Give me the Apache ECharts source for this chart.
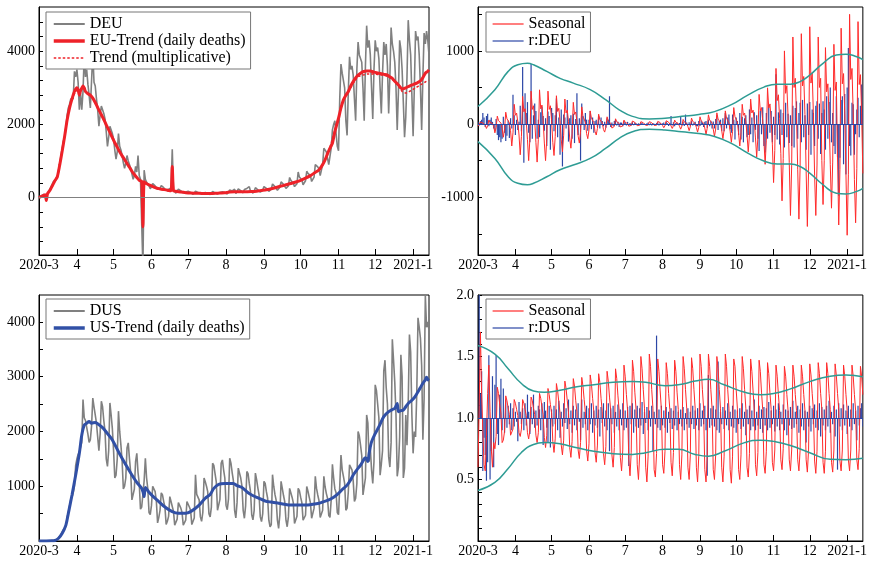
<!DOCTYPE html>
<html>
<head>
<meta charset="utf-8">
<script src="https://cdn.jsdelivr.net/npm/echarts@6.0.0/dist/echarts.min.js"></script>
<style>
  html, body { margin: 0; padding: 0; background: #fff; }
  #chart { width: 870px; height: 562px; }
</style>
</head>
<body>
<div id="chart"></div>
<script>
// Day index 0 = 2020-03-01, last index 319 = 2021-01-14
const monthStarts = [0, 31, 61, 92, 122, 153, 184, 214, 245, 275, 306];
const monthLabels = ['2020-3', '4', '5', '6', '7', '8', '9', '10', '11', '12', '2021-1'];

// ---- Europe: daily deaths (DEU) ----
const deu = [
  20, 30, 50, 60, 90, 110, 40,
  100, 170, 220, 310, 360, 450, 500,
  480, 560, 750, 950, 1150, 1350, 1550,
  1650, 1900, 2250, 2450, 2550, 2700, 2750,
  2700, 3450, 3300, 3500, 3150, 2400, 2850,
  2400, 2900, 3900, 3300, 3500, 3100, 2800,
  2450, 2400, 3950, 3150, 3050, 2700, 2400,
  1950, 2250, 2500, 2400, 2300, 2150, 1800,
  1400, 1650, 1950, 1900, 1750, 1600, 1300,
  1050, 1250, 1750, 1400, 1300, 1150, 950,
  800, 950, 1150, 1000, 950, 800, 650,
  500, 600, 850, 700, 1150, 600, 500,
  450, -1900, 750, 500, 420, 380, 320,
  240, 300, 380, 350, 320, 290, 230,
  190, 250, 330, 290, 270, 240, 200,
  170, 230, 280, 260, 1320, 210, 160,
  120, 170, 230, 200, 180, 160, 130,
  100, 150, 190, 170, 150, 140, 110,
  90, 130, 170, 150, 140, 120, 100,
  80, 120, 160, 140, 130, 115, 95,
  85, 125, 165, 150, 130, 120, 100,
  90, 140, 180, 160, 150, 130, 105,
  100, 150, 210, 190, 180, 160, 230,
  110, 160, 240, 200, 190, 170, 130,
  220, 170, 250, 210, 300, 175, 140,
  120, 180, 270, 230, 210, 190, 150,
  130, 200, 300, 260, 250, 220, 170,
  160, 230, 370, 330, 300, 270, 200,
  200, 280, 430, 380, 360, 320, 250,
  240, 320, 550, 470, 430, 390, 300,
  280, 380, 700, 560, 520, 480, 350,
  330, 460, 720, 660, 650, 600, 440,
  420, 560, 900, 850, 840, 780, 600,
  650, 900, 1350, 1300, 1250, 1200, 900,
  950, 1350, 1850, 2000, 2100, 1750, 1400,
  1280, 2700, 3650, 3400, 3350, 3000, 2100,
  1700, 2900, 3850, 3500, 3600, 3350, 2700,
  2100, 3500, 4250, 3900, 3950, 3700, 3000,
  2100, 3600, 4700, 4100, 4300, 3900, 3000,
  2150, 3500, 4300, 4000, 4100, 3800, 3000,
  2300, 3400, 4250, 3900, 4200, 3600,
  2300, 3300, 4650, 4200, 4000, 3700, 3000,
  1850, 2900, 4300, 4050, 3500, 2600,
  1650, 2200, 3300, 4850, 4300, 3900, 2800,
  1680, 3000, 4550, 4300, 4400, 3900, 3000,
  1850, 3300, 4500, 4200, 4550, 4300, 3900
];

// EU trend (additive decomposition) as [day, value]
const euTrend = [
  [0,0],[2,30],[4,60],[5,80],[6,-80],[7,110],[9,200],[11,330],[13,460],[15,570],[17,900],
  [19,1280],[21,1680],[23,2120],[25,2450],[27,2700],[29,2900],[31,3000],[32,2950],[33,2800],
  [34,2920],[36,3050],[37,3000],[38,2900],[40,2840],[42,2800],[44,2720],[46,2600],[48,2460],
  [50,2330],[52,2200],[54,2060],[56,1920],[58,1780],[60,1640],[62,1500],[64,1380],[66,1250],
  [68,1140],[70,1040],[72,930],[74,830],[76,720],[78,630],[80,550],[82,470],[84,440],[85,-800],
  [86,430],[88,380],[90,350],[92,320],[94,285],[96,260],[98,245],[100,230],[102,220],[104,210],
  [106,195],[108,185],[109,850],[110,180],[112,170],[114,160],[116,150],[120,135],[124,125],
  [128,120],[132,115],[136,110],[140,112],[144,115],[148,122],[152,135],[156,150],[160,160],
  [166,160],[170,162],[174,165],[178,175],[182,195],[186,215],[190,240],[194,275],[198,315],
  [202,350],[206,385],[210,425],[214,470],[218,530],[222,600],[226,690],[229,755],[232,900],
  [234,1030],[236,1200],[238,1350],[240,1485],[242,1800],[245,2170],[247,2450],[249,2670],
  [251,2800],[253,2900],[255,3050],[257,3170],[259,3270],[261,3350],[263,3400],[265,3440],
  [268,3460],[271,3460],[274,3430],[278,3400],[282,3370],[285,3350],[287,3300],[289,3260],
  [291,3180],[294,3080],[297,2970],[300,3000],[303,3050],[306,3090],[309,3130],[312,3190],
  [314,3280],[316,3400],[318,3450],[319,3490]
];

// Trend from the multiplicative decomposition
const multTrend = [
  [0,0],[3,40],[6,70],[8,130],[10,260],[12,400],[14,520],[16,700],[18,1100],[20,1500],
  [22,1920],[24,2300],[26,2600],[28,2760],[30,2900],[32,2950],[34,2960],[36,3000],[38,2920],
  [40,2850],[44,2720],[48,2460],[52,2200],[56,1920],[60,1640],[64,1380],[68,1140],[72,930],
  [76,720],[80,550],[84,430],[88,380],[92,320],[96,260],[100,230],[104,210],[108,185],
  [112,170],[116,150],[124,125],[132,115],[140,112],[148,122],[156,150],[166,158],[174,165],
  [182,195],[190,240],[198,315],[206,385],[214,470],[222,600],[229,760],[234,1040],[238,1380],
  [242,1850],[245,2200],[249,2650],[253,2880],[257,3120],[261,3300],[265,3350],[269,3380],
  [274,3380],[278,3360],[282,3340],[286,3300],[290,3200],[294,3050],[297,2900],[300,2860],
  [304,2920],[308,3000],[312,3080],[316,3160],[319,3210]
];

// Seasonal component of DEU (additive)
const seasonalDEU = [
  -30, -12, 27, 12, 15, 3, -15,
  -60, -24, 54, 24, 30, 6, -30,
  -120, -48, 108, 48, 60, 12, -60,
  -180, -72, 162, 72, 90, 18, -90,
  -300, -120, 270, 120, 150, 30, -150,
  -420, -168, 378, 168, 210, 42, -210,
  -500, -200, 450, 200, 250, 50, -250,
  -520, -208, 468, 208, 260, 52, -260,
  -500, -200, 450, 200, 250, 50, -250,
  -430, -172, 387, 172, 215, 43, -215,
  -380, -152, 342, 152, 190, 38, -190,
  -330, -132, 297, 132, 165, 33, -165,
  -260, -104, 234, 104, 130, 26, -130,
  -200, -80, 180, 80, 100, 20, -100,
  -150, -60, 135, 60, 75, 15, -75,
  -110, -44, 99, 44, 55, 11, -55,
  -80, -32, 72, 32, 40, 8, -40,
  -60, -24, 54, 24, 30, 6, -30,
  -45, -18, 41, 18, 23, 5, -23,
  -35, -14, 32, 14, 18, 4, -18,
  -35, -14, 32, 14, 18, 4, -18,
  -40, -16, 36, 16, 20, 4, -20,
  -50, -20, 45, 20, 25, 5, -25,
  -60, -24, 54, 24, 30, 6, -30,
  -70, -28, 63, 28, 35, 7, -35,
  -90, -36, 81, 36, 45, 9, -45,
  -110, -44, 99, 44, 55, 11, -55,
  -140, -56, 126, 56, 70, 14, -70,
  -170, -68, 153, 68, 85, 17, -85,
  -200, -80, 180, 80, 100, 20, -100,
  -250, -100, 225, 100, 125, 25, -125,
  -300, -120, 270, 120, 150, 30, -150,
  -380, -152, 342, 152, 190, 38, -190,
  -450, -180, 405, 180, 225, 45, -225,
  -550, -220, 495, 220, 275, 55, -275,
  -800, -360, 760, 320, 400, 80, -400,
  -1050, -470, 1000, 420, 525, 105, -525,
  -1250, -560, 1190, 500, 625, 125, -625,
  -1300, -585, 1235, 520, 650, 130, -650,
  -1400, -630, 1330, 560, 700, 140, -700,
  -1250, -560, 1190, 500, 625, -500,
  -1100, -495, 1045, 440, 550, 110, -550,
  -1150, -520, 1090, 460, 575, -450,
  -1380, -620, 1310, 550, 690, 140, -690,
  -1520, -685, 1500, 610, 760, 150, -760,
  -1350, -610, 1400, 540, 675, 135, -675
];

// Residual of DEU
const residDEU = [
  30, -20, 40, 60, 150, 90, -40,
  110, 140, -30, 60, 90, 30, -60,
  -80, 70, -150, -220, -180, -250, -200,
  100, -120, -230, -160, 50, -190, 80,
  -60, 400, 120, -150, 60, -80, 30,
  250, -100, 780, -530, 420, 150, 300,
  -120, -250, 820, -200, 120, 280, 180,
  -200, 60, -180, 160, 240, 110, -90,
  80, -300, 170, 110, -350, 220, 150,
  -100, 120, 350, -180, 90, -420, 200,
  -580, 130, 90, -60, 330, -240, 80,
  120, -200, 140, -260, 70, 420, -150,
  80, -500, 280, 110, -80, 150, 60,
  -90, 60, 180, -70, 90, -120, 40,
  60, -40, 110, -60, 90, 40, -30,
  30, -50, 80, 60, 380, -40, 20,
  -30, 40, 60, -20, 30, -40, 20,
  20, -30, 40, 20, -20, 30, -10,
  15, -20, 25, -15, 20, 10, -10,
  10, -15, 20, 15, -10, 5, -5,
  10, 20, -15, 10, -20, 15, 5,
  -10, 15, 25, -20, 15, -10, 10,
  20, -15, 30, 10, -25, 15, 110,
  -20, 25, -30, 15, 20, -10, 15,
  105, -20, 30, -25, 130, 20, -15,
  25, -30, 40, -20, 15, 30, -25,
  -30, 40, -25, 50, 20, -40, 30,
  40, -50, 60, -30, 45, -60, 35,
  -60, 70, 120, -80, 40, 60, -90,
  80, -100, 150, -60, 90, 130, -70,
  -120, 130, 60, -210, 90, 40, -150,
  150, -210, 100, -250, 80, 120, -180,
  -150, 200, -140, 90, -250, 160, -80,
  120, -200, -370, 180, -140, 230, -300,
  -390, 150, -200, 260, -120, 180, -250,
  100, -150, 680, -210, 160, -280, 200,
  -150, 150, -320, 290, -180, 140, -260,
  120, -300, 250, -320, 220, 310, -200,
  150, 290, -250, 330, -180, 120, -350,
  280, -150, 300, -420, 200, 150, -300,
  250, 310, -200, 280, -410, 150,
  310, 200, -350, 380, -200, 300, 500,
  -250, 150, -300, -410, 380, -450,
  -980, -460, 330, 380, -550, 410, -690,
  500, 1040, -300, -430, 290, 270, -420,
  -140, 200, 360, -180, 250, 540, 200
];

// Envelope of the DEU seasonal component, as [day, value]
const bandDEUUpper = [
  [0,240],[14,470],[25,720],[33,810],[41,830],[46,810],[57,720],[68,625],[79,560],[93,470],
  [106,330],[117,195],[128,105],[142,70],[155,80],[169,105],[183,130],[196,170],[210,265],
  [224,400],[237,505],[248,545],[259,545],[267,580],[275,670],[286,830],[297,945],[305,955],
  [314,920],[319,880]
];
const bandDEULower = [
  [0,-240],[14,-470],[25,-720],[33,-810],[41,-830],[46,-810],[57,-720],[68,-625],[79,-560],[93,-470],
  [106,-330],[117,-195],[128,-105],[142,-70],[155,-80],[169,-105],[183,-130],[196,-170],[210,-265],
  [224,-400],[237,-505],[248,-545],[259,-545],[267,-580],[275,-670],[286,-830],[297,-945],[305,-955],
  [314,-920],[319,-880]
];

// ---- United States: daily deaths (DUS) ----
const dus = [
  0, 1, 1, 2, 2, 3, 2,
  3, 4, 7, 6, 9, 10, 13,
  18, 33, 55, 85, 120, 165, 210,
  210, 270, 430, 520, 640, 760, 800,
  880, 1000, 1380, 1500, 1580, 1620, 1600,
  1800, 2580, 2250, 2200, 2230, 1950, 1800,
  1850, 2100, 2610, 2450, 2300, 2150, 1900,
  1650, 1950, 2550, 2450, 2200, 2000, 1500,
  1360, 1650, 2520, 2300, 2050, 1650, 1150,
  1200, 1500, 2370, 2000, 1750, 1450, 950,
  1000, 1150, 1700, 1790, 1500, 1250, 750,
  780, 950, 1450, 1600, 1250, 1050, 580,
  620, 600, 1100, 1510, 1150, 950, 520,
  480, 650, 1000, 1025, 900, 720, 330,
  430, 560, 880, 840, 720, 620, 300,
  360, 450, 810, 720, 630, 540, 290,
  300, 400, 700, 680, 600, 520, 290,
  290, 380, 720, 700, 620, 560, 300,
  300, 420, 1210, 850, 800, 750, 440,
  360, 520, 1150, 1080, 1000, 900, 500,
  440, 620, 1420, 1380, 1230, 1080, 560,
  540, 760, 1420, 1480, 1300, 1150, 650,
  570, 770, 1510, 1420, 1250, 1100, 560,
  420, 700, 1330, 1300, 1150, 1000, 560,
  415, 640, 1270, 1230, 1050, 900, 480,
  385, 560, 1240, 1120, 970, 840, 440,
  355, 500, 1090, 1050, 900, 780, 380,
  260, 300, 1210, 1000, 850, 740, 380,
  230, 480, 1090, 960, 830, 720, 380,
  260, 440, 960, 930, 800, 700, 320,
  320, 450, 960, 920, 800, 700, 380,
  415, 470, 995, 910, 800, 700, 415,
  415, 600, 1180, 960, 840, 740, 430,
  420, 560, 1180, 990, 870, 780, 470,
  430, 750, 1400, 1150, 950, 880, 520,
  480, 1000, 1570, 1300, 1180, 1050, 560,
  600, 900, 1390, 1380, 1300, 1100, 720,
  780, 1050, 2000, 1920, 1750, 1560, 840,
  850, 1150, 2300, 2150, 1450, 1700, 1300,
  1050, 1450, 2850, 2750, 2500, 2250, 1200,
  1400, 1650, 3100, 3300, 2800, 2500, 1540,
  1350, 1800, 3680, 3300, 2900, 2300, 1180,
  1350, 1900, 3400, 3000, 1150, 1330, 2300,
  1750, 2500, 3770, 3450, 2300, 1600, 2000,
  1900, 2700, 4075, 3900, 3700, 3200, 1850,
  2600, 4480, 3900, 4000, 3850
];

// US trend as [day, value]
const usTrend = [
  [0,0],[10,5],[13,10],[16,50],[19,140],[22,290],[24,505],[27,840],[30,1205],[33,1600],
  [35,1935],[37,2115],[39,2150],[41,2180],[43,2150],[46,2165],[48,2140],[52,2070],[56,1960],
  [60,1845],[65,1630],[71,1390],[76,1205],[80,1070],[84,960],[85,900],[86,810],[87,975],
  [90,890],[93,820],[98,720],[103,620],[109,535],[114,505],[120,505],[125,550],[131,655],
  [136,780],[140,850],[143,960],[147,1035],[152,1050],[159,1050],[162,1010],[166,975],
  [170,900],[174,840],[180,780],[185,730],[190,710],[196,690],[207,655],[218,655],[224,670],
  [229,690],[233,720],[237,750],[241,800],[245,870],[248,940],[252,1020],[255,1120],
  [257,1205],[260,1300],[263,1385],[266,1500],[267,1520],[269,1450],[270,1600],[272,1810],
  [275,1960],[278,2085],[282,2270],[286,2360],[289,2400],[291,2420],[293,2510],[294,2360],
  [296,2380],[298,2390],[300,2450],[302,2510],[304,2550],[306,2590],[308,2650],[310,2725],
  [312,2800],[314,2880],[316,2940],[317,2990],[318,2950],[319,2930]
];

// Seasonal component of DUS (multiplicative)
const seasonalDUS = [
  0.6, 1.1, 1.7, 1.2, 0.9, 0.62, 0.57,
  0.85, 1.2, 1.43, 1.05, 0.75, 0.6, 0.8,
  0.75, 0.85, 1.25, 1.2, 1.11, 1.04, 0.8,
  0.82, 0.89, 1.18, 1.14, 1.08, 1.03, 0.86,
  0.85, 0.91, 1.15, 1.12, 1.07, 1.02, 0.88,
  0.85, 0.91, 1.15, 1.12, 1.07, 1.02, 0.88,
  0.83, 0.9, 1.17, 1.14, 1.08, 1.03, 0.86,
  0.8, 0.88, 1.2, 1.16, 1.09, 1.03, 0.84,
  0.76, 0.86, 1.24, 1.19, 1.11, 1.04, 0.81,
  0.72, 0.83, 1.28, 1.22, 1.13, 1.04, 0.78,
  0.7, 0.82, 1.3, 1.24, 1.14, 1.05, 0.76,
  0.68, 0.81, 1.32, 1.26, 1.14, 1.05, 0.74,
  0.67, 0.8, 1.33, 1.26, 1.15, 1.05, 0.74,
  0.65, 0.79, 1.35, 1.28, 1.16, 1.05, 0.72,
  0.64, 0.78, 1.36, 1.29, 1.16, 1.05, 0.71,
  0.62, 0.77, 1.38, 1.3, 1.17, 1.06, 0.7,
  0.6, 0.76, 1.4, 1.32, 1.18, 1.06, 0.68,
  0.57, 0.74, 1.43, 1.34, 1.19, 1.06, 0.66,
  0.53, 0.72, 1.47, 1.38, 1.21, 1.07, 0.62,
  0.5, 0.7, 1.5, 1.4, 1.23, 1.08, 0.6,
  0.48, 0.69, 1.52, 1.42, 1.23, 1.08, 0.58,
  0.52, 0.71, 1.48, 1.38, 1.22, 1.07, 0.62,
  0.55, 0.73, 1.45, 1.36, 1.2, 1.07, 0.64,
  0.53, 0.72, 1.47, 1.38, 1.21, 1.07, 0.62,
  0.5, 0.7, 1.5, 1.4, 1.23, 1.08, 0.6,
  0.5, 0.7, 1.49, 1.4, 1.23, 1.08, 0.6,
  0.48, 0.69, 1.52, 1.42, 1.23, 1.08, 0.58,
  0.48, 0.69, 1.52, 1.42, 1.23, 1.08, 0.58,
  0.5, 0.7, 1.5, 1.4, 1.23, 1.08, 0.6,
  0.48, 0.69, 1.52, 1.42, 1.23, 1.08, 0.58,
  0.47, 0.69, 1.48, 1.42, 1.23, 1.08, 0.58,
  0.5, 0.7, 1.5, 1.4, 1.23, 1.08, 0.6,
  0.52, 0.71, 1.48, 1.38, 1.22, 1.07, 0.62,
  0.53, 0.72, 1.47, 1.38, 1.21, 1.07, 0.62,
  0.55, 0.73, 1.45, 1.36, 1.2, 1.07, 0.64,
  0.57, 0.74, 1.43, 1.34, 1.19, 1.06, 0.66,
  0.58, 0.75, 1.42, 1.34, 1.19, 1.06, 0.66,
  0.57, 0.74, 1.43, 1.34, 1.19, 1.06, 0.66,
  0.57, 0.74, 1.43, 1.34, 1.19, 1.06, 0.66,
  0.56, 0.74, 1.44, 1.35, 1.2, 1.07, 0.65,
  0.55, 0.73, 1.45, 1.36, 1.2, 1.07, 0.64,
  0.55, 0.73, 1.45, 1.36, 1.2, 1.07, 0.64,
  0.56, 0.74, 1.44, 1.35, 1.2, 1.07, 0.65,
  0.57, 0.74, 1.43, 1.34, 1.19, 1.06, 0.66,
  0.57, 0.74, 1.43, 1.34, 1.19, 1.06, 0.66,
  0.58, 0.75, 1.42, 1.34, 1.19
];

// Residual of DUS (multiplicative, around 1)
const residDUS = [
  1.0, 2.1, 1.2, 1.38, 0.57, 0.84, 0.7,
  0.49, 0.64, 1.51, 0.5, 0.73, 1.34, 0.6,
  1.27, 1.51, 0.87, 0.78, 1.19, 1.32, 0.9,
  1.24, 0.88, 1.15, 0.92, 1.1, 0.95, 1.12,
  0.9, 1.08, 0.93, 1.05, 0.97, 0.81, 1.13,
  1.05, 0.95, 1.08, 0.9, 1.12, 0.94, 1.19,
  1.05, 0.87, 1.09, 0.95, 1.19, 0.92, 1.06,
  0.94, 1.1, 1.07, 0.9, 1.12, 0.78, 1.13,
  1.06, 0.92, 0.8, 1.1, 0.76, 1.07, 0.93,
  1.1, 0.95, 1.07, 0.9, 1.14, 0.84, 1.05,
  0.93, 1.12, 0.96, 1.08, 0.91, 1.15, 0.95,
  1.06, 0.88, 1.1, 0.94, 1.07, 0.9, 1.12,
  0.97, 0.82, 1.15, 0.92, 1.05, 0.95, 1.1,
  0.9, 1.08, 0.95, 1.12, 0.88, 1.06, 0.94,
  1.1, 0.92, 1.07, 0.85, 1.09, 0.96, 1.12,
  0.93, 1.06, 0.9, 1.12, 0.73, 1.08, 0.95,
  1.1, 0.88, 1.05, 0.93, 1.11, 0.9, 1.07,
  0.94, 1.12, 0.9, 1.06, 0.92, 1.09, 0.61,
  1.1, 0.95, 1.12, 0.88, 1.07, 0.93, 1.1,
  0.92, 1.08, 0.94, 1.13, 0.87, 1.05, 0.96,
  1.09, 0.9, 1.06, 0.93, 1.1, 0.73, 1.05,
  0.95, 1.67, 0.92, 1.07, 0.9, 1.1, 0.94,
  1.06, 0.92, 1.09, 0.88, 1.05, 0.96, 1.08,
  0.91, 1.06, 0.94, 1.1, 0.9, 1.05, 0.95,
  1.07, 0.93, 1.09, 0.9, 1.04, 0.95, 1.08,
  0.92, 1.05, 0.95, 1.1, 0.91, 1.06, 0.94,
  1.08, 0.9, 1.12, 0.93, 1.06, 0.95, 1.1,
  0.9, 0.53, 1.35, 0.92, 1.08, 0.94, 1.1,
  0.93, 1.07, 0.9, 1.46, 0.88, 1.05, 0.95,
  1.09, 0.91, 1.06, 0.94, 1.12, 0.9, 1.05,
  0.93, 1.1, 0.92, 1.07, 0.88, 1.06, 0.95,
  1.08, 0.91, 1.12, 0.93, 1.05, 0.86, 1.07,
  0.95, 1.1, 0.9, 1.06, 0.93, 1.15, 0.9,
  1.05, 0.94, 1.1, 0.91, 1.07, 0.88, 1.09,
  0.94, 1.08, 0.9, 1.13, 0.92, 1.06, 0.95,
  1.1, 0.89, 1.07, 0.93, 1.12, 0.9, 1.05,
  0.95, 1.11, 0.9, 1.07, 0.86, 1.06, 0.94,
  1.09, 0.91, 1.14, 0.92, 1.05, 0.95, 1.1,
  0.88, 1.07, 0.93, 1.12, 0.9, 1.06, 0.8,
  1.05, 0.93, 1.1, 0.89, 1.08, 0.95, 1.11,
  0.92, 1.06, 0.9, 1.12, 0.85, 1.09, 0.94,
  1.07, 0.9, 1.1, 0.93, 1.14, 0.88, 1.05,
  0.95, 1.1, 0.85, 1.07, 0.58, 1.12, 0.93,
  1.08, 0.9, 1.11, 0.94, 1.06, 0.87, 1.1,
  0.93, 1.07, 0.9, 1.12, 0.95, 1.06, 0.82,
  1.1, 0.94, 1.08, 1.12, 0.93
];

// Envelope of the DUS seasonal component, as [day, value]
const bandDUSUpper = [
  [0,1.59],[14,1.52],[25,1.40],[36,1.28],[46,1.22],[55,1.21],[68,1.226],[82,1.255],[96,1.27],
  [112,1.29],[128,1.296],[139,1.29],[155,1.263],[166,1.27],[180,1.30],[191,1.315],[204,1.27],
  [221,1.21],[234,1.19],[245,1.2],[259,1.237],[275,1.296],[292,1.34],[305,1.35],[319,1.336]
];
const bandDUSLower = [
  [0,0.41],[14,0.476],[25,0.59],[36,0.72],[46,0.785],[55,0.80],[68,0.79],[82,0.758],[96,0.73],
  [112,0.71],[128,0.704],[139,0.718],[155,0.745],[166,0.745],[180,0.704],[191,0.69],[204,0.73],
  [221,0.80],[234,0.82],[245,0.81],[259,0.777],[275,0.718],[292,0.664],[305,0.66],[319,0.672]
];

// Axis tick / label positions
const ticksDEU = [-1200, -800, -400, 0, 400, 800, 1200, 1600, 2000, 2400, 2800, 3200, 3600, 4000, 4400, 4800];
const labelsDEU = [0, 2000, 4000];
const ticksSeasDEU = [-1500, -1000, -500, 0, 500, 1000, 1500];
const labelsSeasDEU = [-1000, 0, 1000];
const ticksDUS = [500, 1000, 1500, 2000, 2500, 3000, 3500, 4000];
const labelsDUS = [1000, 2000, 3000, 4000];
const ticksSeasDUS = [0.1, 0.2, 0.3, 0.4, 0.5, 0.6, 0.7, 0.8, 0.9, 1.0, 1.1, 1.2, 1.3, 1.4, 1.5, 1.6, 1.7, 1.8, 1.9, 2.0];
const labelsSeasDUS = [0.5, 1.0, 1.5, 2.0];

// ---- styling ----
const FONT = 'Liberation Serif';
const GRAY = '#808080';
const RED = '#ee2229';
const SEAS_RED = '#ff2a2a';
const BLUE = '#2c47a6';
const US_BLUE = '#3150a6';
const TEAL = '#2e9c94';

const daily = arr => arr.map((v, i) => [i, v]);

function makeX(gi) {
  return {
    type: 'value', gridIndex: gi, min: 0, max: 319,
    axisLine: { show: true, onZero: false, lineStyle: { color: '#000', width: 1 } },
    axisTick: { show: true, inside: true, length: 6, customValues: monthStarts, lineStyle: { color: '#000' } },
    axisLabel: {
      customValues: monthStarts,
      formatter: v => monthLabels[monthStarts.indexOf(v)],
      fontFamily: FONT, fontSize: 14, color: '#000', margin: 3
    },
    splitLine: { show: false }
  };
}

function makeY(gi, min, max, ticks, labels, fmt) {
  return {
    type: 'value', gridIndex: gi, min, max,
    axisLine: { show: true, onZero: false, lineStyle: { color: '#000', width: 1 } },
    axisTick: { show: true, inside: true, length: 4, customValues: ticks, lineStyle: { color: '#000' } },
    axisLabel: { customValues: labels, formatter: fmt, fontFamily: FONT, fontSize: 14, color: '#000', margin: 4 },
    splitLine: { show: false }
  };
}

// Legend keys show the series line only (the point marker is made invisible);
// entries are [name, key line width]
function makeLegend(entries, left, top) {
  return {
    data: entries.map(([name, w]) => ({ name, lineStyle: { width: w } })),
    left, top, orient: 'vertical',
    itemGap: 1, itemWidth: 31, itemHeight: 14,
    itemStyle: { opacity: 0 },
    padding: [4, 5, 3, 6],
    backgroundColor: '#fff', borderColor: '#777', borderWidth: 1, borderRadius: 0,
    textStyle: { fontFamily: FONT, fontSize: 16, color: '#000', lineHeight: 16 },
    selectedMode: false, z: 10
  };
}

function line(name, data, xi, color, width, extra) {
  return Object.assign({
    type: 'line', name, data, xAxisIndex: xi, yAxisIndex: xi,
    symbol: 'none', showSymbol: false, clip: true,
    lineStyle: { color, width }, itemStyle: { color },
    emphasis: { disabled: true }
  }, extra || {});
}

function needles(name, data, xi, base) {
  return {
    type: 'custom', name, xAxisIndex: xi, yAxisIndex: xi, clip: true,
    data: daily(data),
    encode: { x: 0, y: 1 },
    renderItem(params, api) {
      const x = api.value(0);
      const top = api.coord([x, api.value(1)]);
      const bot = api.coord([x, base]);
      return {
        type: 'line',
        shape: { x1: top[0], y1: bot[1], x2: top[0], y2: top[1] },
        style: { stroke: BLUE, lineWidth: 1.2 }
      };
    },
    markLine: {
      silent: true, symbol: ['none', 'none'], label: { show: false },
      lineStyle: { color: BLUE, width: 1, type: 'solid' },
      data: [{ yAxis: base }]
    }
  };
}

const option = {
  animation: false,
  backgroundColor: '#fff',
  grid: [
    { left: 39, top: 7, width: 390, height: 248 },
    { left: 478, top: 7, width: 391, height: 248 },
    { left: 39, top: 295, width: 390, height: 246 },
    { left: 478, top: 295, width: 391, height: 246 }
  ].map(g => Object.assign(g, { show: true, borderColor: '#000', borderWidth: 1, backgroundColor: 'transparent' })),
  xAxis: [makeX(0), makeX(1), makeX(2), makeX(3)],
  yAxis: [
    makeY(0, -1570, 5210, ticksDEU, labelsDEU, v => String(v)),
    makeY(1, -1790, 1600, ticksSeasDEU, labelsSeasDEU, v => String(v)),
    makeY(2, 0, 4490, ticksDUS, labelsDUS, v => String(v)),
    makeY(3, 0, 2.0, ticksSeasDUS, labelsSeasDUS, v => v.toFixed(1))
  ],
  legend: [
    makeLegend([['DEU', 2], ['EU-Trend (daily deaths)', 3.5], ['Trend (multiplicative)', 1.5]], 46, 12),
    makeLegend([['Seasonal', 1.2], ['r:DEU', 1.2]], 486, 12),
    makeLegend([['DUS', 2], ['US-Trend (daily deaths)', 3.5]], 46, 299),
    makeLegend([['Seasonal', 1.2], ['r:DUS', 1.2]], 486, 299)
  ],
  series: [
    // panel 1
    line('DEU', daily(deu), 0, GRAY, 1.6, {
      markLine: {
        silent: true, symbol: ['none', 'none'], label: { show: false },
        lineStyle: { color: GRAY, width: 1, type: 'solid' }, data: [{ yAxis: 0 }]
      }
    }),
    line('EU-Trend (daily deaths)', euTrend, 0, RED, 3, { smooth: 0.2 }),
    line('Trend (multiplicative)', multTrend, 0, RED, 1.5, { smooth: 0.3, lineStyle: { color: RED, width: 1.5, type: [2.5, 2] } }),
    // panel 2
    line('Seasonal', daily(seasonalDEU), 1, SEAS_RED, 1),
    line('r:DEU', [], 1, BLUE, 1.2),
    needles('r:DEU', residDEU, 1, 0),
    line('bandDEUUpper', bandDEUUpper, 1, TEAL, 1.5, { smooth: true }),
    line('bandDEULower', bandDEULower, 1, TEAL, 1.5, { smooth: true }),
    // panel 3
    line('DUS', daily(dus), 2, GRAY, 1.6),
    line('US-Trend (daily deaths)', usTrend, 2, US_BLUE, 3, { smooth: 0.3 }),
    // panel 4
    line('Seasonal', daily(seasonalDUS), 3, SEAS_RED, 1),
    line('r:DUS', [], 3, BLUE, 1.2),
    needles('r:DUS', residDUS, 3, 1),
    line('bandDUSUpper', bandDUSUpper, 3, TEAL, 1.5, { smooth: true }),
    line('bandDUSLower', bandDUSLower, 3, TEAL, 1.5, { smooth: true })
  ]
};

const chart = echarts.init(document.getElementById('chart'), null, { renderer: 'canvas' });
chart.setOption(option);
</script>
</body>
</html>
